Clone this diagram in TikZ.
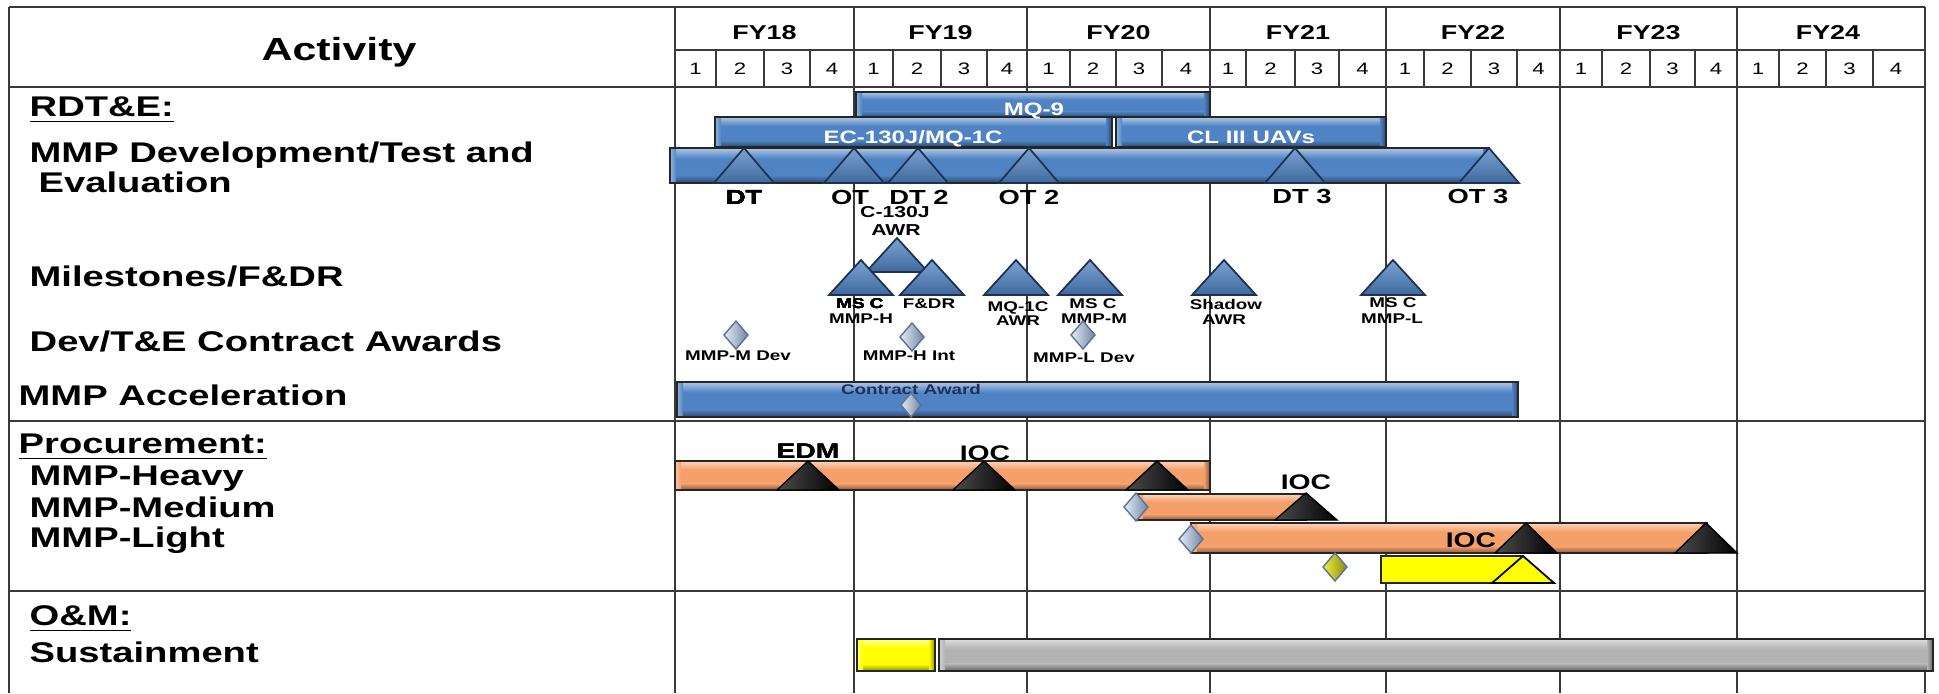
\documentclass[tikz,border=0pt]{standalone}
\usepackage{fontspec}
\setmainfont{Liberation Sans}[FakeStretch=1.34]
\definecolor{gridc}{HTML}{3A3A3A}
\definecolor{barB}{HTML}{4F83C4}
\definecolor{navy}{HTML}{1F3152}
\definecolor{orng}{HTML}{F5A06A}
\definecolor{gry}{HTML}{B3B3B3}
\definecolor{yel}{HTML}{FFFF00}
\definecolor{diaL}{HTML}{E6ECF3}
\definecolor{diaR}{HTML}{6E86A6}
\definecolor{diaB}{HTML}{5C7394}
\definecolor{ygL}{HTML}{EDED3A}
\definecolor{ygR}{HTML}{8C8C14}
\definecolor{caN}{HTML}{1F2F5F}
\newcommand\fsz[1]{\fontsize{#1}{#1}\selectfont}
\newcommand\gbar[5]{%
  \fill[#5] (#1,#2) rectangle (#3,#4);
  \shade[top color=#5!45!white, bottom color=#5] (#1,#2) rectangle (#3,{#2+0.3*(#4-#2)});
  \shade[top color=#5, bottom color=#5!55!black] (#1,{#4-0.22*(#4-#2)}) rectangle (#3,#4);
  \shade[left color=#5!60!white, right color=#5] (#1,#2) rectangle ({#1+6},#4);
  \shade[left color=#5, right color=#5!55!black] ({#3-6},#2) rectangle (#3,#4);
  \draw[barline] (#1,#2) rectangle (#3,#4);}
\newcommand\gtri[5]{\filldraw[#5] (#1,#2) -- ({#1+#4},#3) -- ({#1-#4},#3) -- cycle;}
\newcommand\gdia[5]{\filldraw[#5] ({#1-#3},#2) -- (#1,{#2-#4}) -- ({#1+#3},#2) -- (#1,{#2+#4}) -- cycle;}
\tikzset{
  grid/.style={draw=gridc, line width=0.5pt},
  barline/.style={draw=black!85, line width=0.5pt},
  hdr/.style={anchor=base, inner sep=0pt, font=\bfseries\fsz{9.1pt}},
  rowlbl/.style={anchor=base west, inner sep=0pt, font=\bfseries\fsz{8.1pt}},
  fy/.style={anchor=base, inner sep=0pt, font=\bfseries\fsz{5.7pt}},
  qtr/.style={anchor=base, inner sep=0pt, font=\fsz{4.7pt}},
  barlbl/.style={anchor=base, inner sep=0pt, text=white, font=\bfseries\fsz{5.1pt}},
  evt/.style={anchor=base, inner sep=0pt, font=\bfseries\fsz{5.8pt}},
  midl/.style={anchor=base, inner sep=0pt, font=\bfseries\fsz{4.5pt}},
  smal/.style={anchor=base, inner sep=0pt, font=\bfseries\fsz{4pt}},
  btri/.style={draw=navy, line width=0.5pt, top color=barB!75!white, bottom color=barB!80!black},
  ktri/.style={draw=black, line width=0.4pt, left color=black!70, right color=black},
  ytri/.style={draw=black, line width=0.5pt, fill=yel},
  dia/.style={draw=diaB, line width=0.4pt, left color=diaL, right color=diaR},
  ydia/.style={draw=diaB, line width=0.4pt, left color=ygL, right color=ygR},
}
\begin{document}
\begin{tikzpicture}[x=0.01cm,y=-0.01cm]
\useasboundingbox (0,0) rectangle (1939,693);
\fill[white] (0,0) rectangle (1939,693);
% grid
\draw[grid] (9,7) -- (1925,7);
\draw[grid] (9,7) -- (9,693);
\draw[grid] (1925,7) -- (1925,693);
\draw[grid] (675,50) -- (1925,50);
\draw[grid] (9,87) -- (1925,87);
\draw[grid] (9,421) -- (1925,421);
\draw[grid] (9,591) -- (1925,591);
\foreach \x in {675,854,1027,1210,1386,1560,1737} \draw[grid] (\x,7) -- (\x,693);
\foreach \n/\a/\b/\c/\d/\e in {18/675/716/764/810/854,19/854/893/941/987/1027,20/1027/1070/1116/1162/1210,21/1210/1246/1295/1339/1386,22/1386/1424/1471/1517/1560,23/1560/1602/1650/1695/1737,24/1737/1779/1826/1873/1919}{
  \foreach \x in {\b,\c,\d} \draw[grid] (\x,50) -- (\x,87);
  \node[qtr] (q\n-1) at ({(\a+\b)/2},74) {1};
  \node[qtr] (q\n-2) at ({(\b+\c)/2},74) {2};
  \node[qtr] (q\n-3) at ({(\c+\d)/2},74) {3};
  \node[qtr] (q\n-4) at ({(\d+\e)/2},74) {4};
  \node[fy] (fy\n) at ({(\a+\e)/2},39) {FY\n};
}
% header and row labels
\node[hdr] (act) at (339,60) {Activity};
\node[rowlbl] (rdte) at (29,116) {\underline{RDT\&E:}};
\node[rowlbl] (dev1) at (29,162) {MMP Development/Test and};
\node[rowlbl] (dev2) at (38,192) {Evaluation};
\node[rowlbl] (mile) at (29,286) {Milestones/F\&DR};
\node[rowlbl] (awd) at (29,351) {Dev/T\&E Contract Awards};
\node[rowlbl] (acc) at (18,405) {MMP Acceleration};
\node[rowlbl] (proc) at (18,453) {\underline{Procurement:}};
\node[rowlbl] (hvy) at (29,485) {MMP-Heavy};
\node[rowlbl] (med) at (29,517) {MMP-Medium};
\node[rowlbl] (lgt) at (29,547) {MMP-Light};
\node[rowlbl] (om) at (29,625) {\underline{O\&M:}};
\node[rowlbl] (sus) at (29,662) {Sustainment};
% RDT&E bars
\gbar{856}{92}{1210}{117}{barB}
\gbar{715}{117}{1112}{147}{barB}
\gbar{1116}{117}{1386}{147}{barB}
\gbar{670}{148}{1489}{183}{barB}
\node[barlbl] (mq9) at (1034,115) {MQ-9};
\node[barlbl] (ec130) at (913,143) {EC-130J/MQ-1C};
\node[barlbl] (cl3) at (1251,143) {CL III UAVs};
\foreach \x in {744,854,918,1029,1295,1489} \gtri{\x}{148}{183}{30}{btri}
\node[evt] (dt1) at (744,204) {DT};
\node[evt] (ot1) at (850,204) {OT};
\node[evt] (dt2) at (919,204) {DT 2};
\node[evt] (ot2) at (1029,204) {OT 2};
\node[evt] (dt3) at (1302,203) {DT 3};
\node[evt] (ot3) at (1478,203) {OT 3};
% milestones
\node[midl] (c130a) at (895,217) {C-130J};
\node[midl] (c130b) at (896,235) {AWR};
\gtri{897}{238}{272}{31}{btri}
\foreach \x in {861,932,1016,1090,1224,1393} \gtri{\x}{260}{295}{32}{btri}
\node[smal] (m1a) at (860,308) {MS C};
\node[smal] (m1b) at (861,323) {MMP-H};
\node[smal] (m2) at (929,308) {F\&DR};
\node[smal] (m3a) at (1018,311) {MQ-1C};
\node[smal] (m3b) at (1018,325) {AWR};
\node[smal] (m4a) at (1093,308) {MS C};
\node[smal] (m4b) at (1094,323) {MMP-M};
\node[smal] (m5a) at (1226,309) {Shadow};
\node[smal] (m5b) at (1224,324) {AWR};
\node[smal] (m6a) at (1393,307) {MS C};
\node[smal] (m6b) at (1392,323) {MMP-L};
% contract awards
\gdia{736}{335}{12}{14}{dia}
\gdia{912}{337}{12}{14}{dia}
\gdia{1083}{335}{12}{14}{dia}
\node[smal] (a1) at (738,360) {MMP-M Dev};
\node[smal] (a2) at (909,360) {MMP-H Int};
\node[smal] (a3) at (1084,362) {MMP-L Dev};
% acceleration
\gbar{677}{382}{1518}{417}{barB}
\node[smal, text=caN] (ca) at (911,394) {Contract Award};
\gdia{911}{405}{10}{12}{dia}
% procurement
\gbar{675}{461}{1210}{490}{orng}
\foreach \x in {808,984,1157} \gtri{\x}{461}{490}{31}{ktri}
\node[evt, font=\bfseries\fsz{6pt}] (edm) at (808,458) {EDM};
\node[evt, font=\bfseries\fsz{6pt}] (ioc1) at (985,460) {IOC};
\gbar{1137}{494}{1306}{520}{orng}
\gtri{1306}{493}{520}{31}{ktri}
\gdia{1136}{507}{12}{14}{dia}
\node[evt, font=\bfseries\fsz{6pt}] (ioc2) at (1306,489) {IOC};
\gbar{1191}{523}{1707}{553}{orng}
\gtri{1526}{523}{553}{31}{ktri}
\gtri{1706}{523}{553}{31}{ktri}
\gdia{1191}{539}{12}{14}{dia}
\node[evt, font=\bfseries\fsz{6pt}] (ioc3) at (1471,547) {IOC};
\gdia{1335}{567}{12}{14}{ydia}
\draw[barline, fill=yel] (1381,556) rectangle (1523,583);
\gtri{1523}{556}{583}{31}{ytri}
% O&M
\gbar{857}{639}{935}{671}{yel}
\gbar{939}{639}{1933}{671}{gry}
\end{tikzpicture}
\end{document}
